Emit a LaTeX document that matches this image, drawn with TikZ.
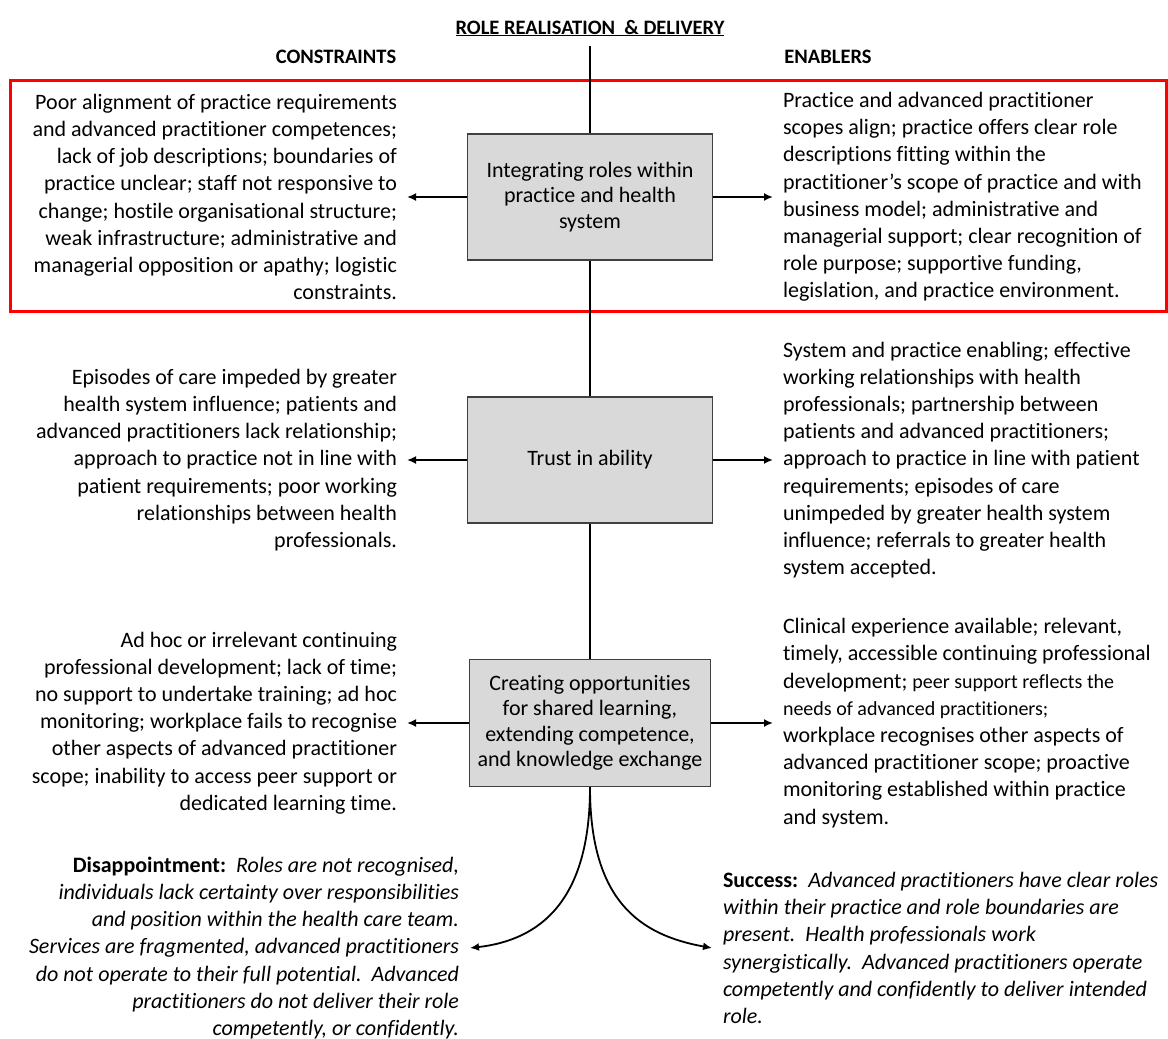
\documentclass[tikz,border=0pt]{standalone}
\usepackage{fontspec}
\setmainfont{Carlito}[Ligatures=NoCommon]
\usetikzlibrary{arrows.meta}
\newcommand\bodyfont{\fontsize{22}{27.2}\selectfont}
\newcommand\smallbody{\fontsize{20}{27.2}\selectfont}
\begin{document}
\begin{tikzpicture}[x=1pt,y=-1pt,
  stage/.style={draw=black!75, fill=black!15, line width=1.3pt,
    minimum width=245pt, minimum height=126pt, align=center,
    font=\fontsize{22}{25.5}\selectfont, inner sep=0pt},
  lefttext/.style={anchor=east, align=right, inner sep=0pt, outer xsep=10pt, font=\bodyfont},
  righttext/.style={anchor=west, align=left, inner sep=0pt, outer xsep=10pt, font=\bodyfont},
  head/.style={font=\fontsize{20.5}{24}\selectfont\bfseries, inner sep=0pt},
  spine/.style={line width=2pt},
  arr/.style={line width=1.8pt, -{Latex[length=9pt,width=8pt]}}
]
\useasboundingbox (0,0) rectangle (1168,1039);

% headings
\node[head] (title) at (590,28) {\underline{ROLE REALISATION \ \& DELIVERY}};
\node[head] (cons) at (336,57) {CONSTRAINTS};
\node[head] (enab) at (828,57) {ENABLERS};

% highlighted band around the first stage
\draw[red, line width=3pt] (10,80) rectangle (1166,311);

% the three stages
\node[stage] (b1) at (590,197) {Integrating roles within\\practice and health\\system};
\node[stage] (b2) at (590,460) {Trust in ability};
\node[stage, minimum width=241pt, minimum height=127pt] (b3) at (590,723)
  {Creating opportunities\\for shared learning,\\extending competence,\\and knowledge exchange};

% spine
\coordinate (top) at (590,46);
\draw[spine] (top) -- (b1.north);
\draw[spine] (b1.south) -- (b2.north);
\draw[spine] (b2.south) -- (b3.north);

% constraints
\node[lefttext] (l1) at (407,197) {Poor alignment of practice requirements\\
and advanced practitioner competences;\\
lack of job descriptions; boundaries of\\
practice unclear; staff not responsive to\\
change; hostile organisational structure;\\
weak infrastructure; administrative and\\
managerial opposition or apathy; logistic\\
constraints.};

\node[lefttext] (l2) at (407,460) {Episodes of care impeded by greater\\
health system influence; patients and\\
advanced practitioners lack relationship;\\
approach to practice not in line with\\
patient requirements; poor working\\
relationships between health\\
professionals.};

\node[lefttext] (l3) at (407,723) {Ad hoc or irrelevant continuing\\
professional development; lack of time;\\
no support to undertake training; ad hoc\\
monitoring; workplace fails to recognise\\
other aspects of advanced practitioner\\
scope; inability to access peer support or\\
dedicated learning time.};

% enablers
\node[righttext] (r1) at (773,197) {Practice and advanced practitioner\\
scopes align; practice offers clear role\\
descriptions fitting within the\\
practitioner’s scope of practice and with\\
business model; administrative and\\
managerial support; clear recognition of\\
role purpose; supportive funding,\\
legislation, and practice environment.};

\node[righttext] (r2) at (773,460) {System and practice enabling; effective\\
working relationships with health\\
professionals; partnership between\\
patients and advanced practitioners;\\
approach to practice in line with patient\\
requirements; episodes of care\\
unimpeded by greater health system\\
influence; referrals to greater health\\
system accepted.};

\node[righttext] (r3) at (773,723) {Clinical experience available; relevant,\\
timely, accessible continuing professional\\
development; {\smallbody peer support reflects the}\\
{\smallbody needs of advanced practitioners;}\\
workplace recognises other aspects of\\
advanced practitioner scope; proactive\\
monitoring established within practice\\
and system.};

% outcomes
\node[lefttext, outer xsep=11pt, font=\bodyfont\itshape] (dis) at (470,948)
  {{\upshape\bfseries Disappointment:}\ \ Roles are not recognised,\\
individuals lack certainty over responsibilities\\
and position within the health care team.\\
Services are fragmented, advanced practitioners\\
do not operate to their full potential.\ \ Advanced\\
practitioners do not deliver their role\\
competently, or confidently.};

\node[righttext, outer xsep=11pt, font=\bodyfont\itshape] (suc) at (712,948)
  {{\upshape\bfseries Success:}\ \ Advanced practitioners have clear roles\\
within their practice and role boundaries are\\
present.\ \ Health professionals work\\
synergistically.\ \ Advanced practitioners operate\\
competently and confidently to deliver intended\\
role.};

% connectors
\draw[arr] (b1.west) -- (l1.east);
\draw[arr] (b1.east) -- (r1.west);
\draw[arr] (b2.west) -- (l2.east);
\draw[arr] (b2.east) -- (r2.west);
\draw[arr] (b3.west) -- (l3.east);
\draw[arr] (b3.east) -- (r3.west);
\draw[arr] (b3.south) .. controls +(0,114) and +(70,-8) .. (dis.east);
\draw[arr] (b3.south) .. controls +(0,114) and +(-72,-13) .. (suc.west);
\end{tikzpicture}
\end{document}
